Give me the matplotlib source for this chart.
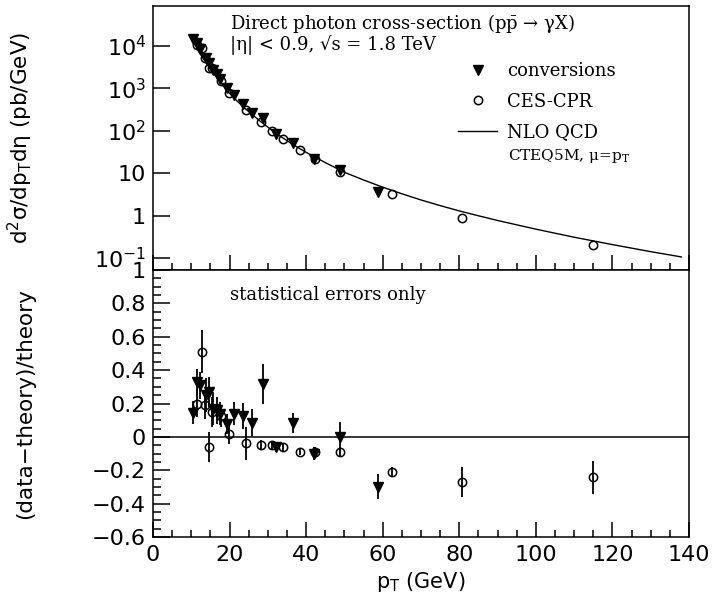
import numpy as np
import matplotlib
matplotlib.use("Agg")
import matplotlib.pyplot as plt
from matplotlib.ticker import MultipleLocator, FuncFormatter, FixedLocator, FixedFormatter, LogLocator

# NLO QCD curve (CTEQ5M, mu = pT)
theory_pt = [10, 11, 12, 13, 14, 15, 16, 18, 20, 22, 24, 28, 32, 36, 40, 45, 50, 55, 60, 65, 70, 75, 80, 85, 90,
             100, 110, 120, 130, 138]
theory_xs = [15100, 10500, 7240, 5250, 3890, 2880, 2190, 1260, 759, 501, 339, 168, 89, 51, 31, 17.8, 10.5, 6.92,
             4.68, 3.27, 2.34, 1.72, 1.29, 0.99, 0.767, 0.479, 0.309, 0.207, 0.141, 0.106]

# conversions (filled triangles)
conv_pt = [10.5, 11.4, 12.4, 13.8, 14.7, 15.7, 16.6, 17.5, 19.2, 21.1, 23.4, 25.9, 28.8, 32.1, 36.6, 42.1, 48.8, 58.8]
conv_xs = [14430, 11980, 8380, 5175, 4040, 2790, 2150, 1647, 1003, 693, 430, 268, 200, 82.5, 51.6, 22.0, 11.9, 3.6]
conv_ratio = [0.146, 0.326, 0.31, 0.25, 0.27, 0.17, 0.16, 0.14, 0.08, 0.14, 0.126, 0.086, 0.318, -0.062, 0.086,
              -0.10, 0.002, -0.30]
conv_err = [0.07, 0.08, 0.08, 0.10, 0.09, 0.10, 0.08, 0.07, 0.06, 0.07, 0.08, 0.08, 0.12, 0.03, 0.06, 0.04, 0.085, 0.075]

# CES-CPR (open circles)
ces_pt = [11.4, 12.7, 13.6, 14.7, 15.3, 17.8, 19.9, 24.2, 28.2, 31.0, 34.0, 38.4, 42.2, 48.8, 62.5, 80.8, 114.8]
ces_xs = [10840, 8800, 5240, 2990, 3080, 1500, 792, 315, 160, 100, 63.4, 34.4, 22.0, 10.8, 3.15, 0.86, 0.205]
ces_ratio = [0.20, 0.51, 0.19, -0.06, 0.15, 0.126, 0.018, -0.038, -0.048, -0.048, -0.062, -0.09, -0.09, -0.088,
             -0.208, -0.268, -0.242]
ces_err = [0.08, 0.13, 0.085, 0.09, 0.09, 0.065, 0.06, 0.10, 0.03, 0.025, 0.02, 0.02, 0.03, 0.03, 0.03, 0.09, 0.10]

top_ticks = [0.1, 1, 10, 100, 1000, 10000]
top_labels = [r"$\mathregular{10^{-1}}$", "1", "10", r"$\mathregular{10^{2}}$", r"$\mathregular{10^{3}}$",
              r"$\mathregular{10^{4}}$"]

SERIF = "DejaVu Serif"
plt.rcParams["font.family"] = "DejaVu Sans"
plt.rcParams["axes.linewidth"] = 1.1

fig = plt.figure(figsize=(7.28, 5.99), dpi=100)
ax1 = fig.add_axes([0.2102, 0.5492, 0.7362, 0.4408])
ax2 = fig.add_axes([0.2102, 0.1035, 0.7362, 0.4457])


def style_axis(ax):
    # ROOT-like ticks: inward, only left and bottom
    ax.set_xlim(0, 140)
    ax.xaxis.set_major_locator(MultipleLocator(20))
    ax.xaxis.set_minor_locator(MultipleLocator(5))
    ax.tick_params(axis="both", which="both", direction="in", top=False, right=False, labelsize=16, width=1.1)
    ax.tick_params(axis="x", which="major", length=11)
    ax.tick_params(axis="x", which="minor", length=5)
    ax.tick_params(axis="y", which="major", length=12, pad=5)
    ax.tick_params(axis="y", which="minor", length=6)


# --- upper panel: cross-section
ax1.plot(theory_pt, theory_xs, color="k", lw=1.0, label="NLO QCD")
ax1.plot(conv_pt, conv_xs, "v", color="k", ms=7, label="conversions")
ax1.plot(ces_pt, ces_xs, "o", mfc="none", mec="k", mew=1.1, ms=6, label="CES-CPR")
ax1.set_yscale("log")
ax1.set_ylim(0.052, 8.8e4)
style_axis(ax1)
ax1.yaxis.set_major_locator(FixedLocator(top_ticks))
ax1.yaxis.set_major_formatter(FixedFormatter(top_labels))
ax1.yaxis.set_minor_locator(LogLocator(base=10, subs=np.arange(2, 10)))
ax1.yaxis.set_minor_formatter(FuncFormatter(lambda v, p: ""))
ax1.tick_params(axis="x", labelbottom=False)
ax1.set_ylabel(r"$\mathregular{d^2\sigma/dp_T d\eta}$ (pb/GeV)", fontsize=15.5)
ax1.yaxis.set_label_coords(-0.22, 0.5)

ax1.text(0.143, 0.932, r"Direct photon cross-section ($\mathregular{p\bar{p}}$ → γX)", transform=ax1.transAxes,
         family=SERIF, fontsize=13, va="center")
ax1.text(0.143, 0.852, "|η| < 0.9, √s = 1.8 TeV", transform=ax1.transAxes, family=SERIF, fontsize=13, va="center")

h, l = ax1.get_legend_handles_labels()
order = [1, 2, 0]
leg = ax1.legend([h[i] for i in order], [l[i] for i in order], loc="upper left", bbox_to_anchor=(0.555, 0.815),
                 frameon=False, prop={"family": SERIF, "size": 13}, handlelength=2.2, handletextpad=0.55,
                 labelspacing=0.7, borderaxespad=0)
ax1.text(0.662, 0.43, r"CTEQ5M, μ=$\mathregular{p_T}$", transform=ax1.transAxes, family=SERIF, fontsize=11,
         va="center")

# --- lower panel: (data - theory)/theory
ax2.axhline(0, color="k", lw=1.1)
ax2.errorbar(conv_pt, conv_ratio, yerr=conv_err, fmt="v", color="k", ms=7, elinewidth=1.3, capsize=0)
ax2.errorbar(ces_pt, ces_ratio, yerr=ces_err, fmt="o", mfc="none", mec="k", ecolor="k", mew=1.1, ms=6,
             elinewidth=1.3, capsize=0)
ax2.set_ylim(-0.6, 1.0)
style_axis(ax2)
ax2.yaxis.set_major_locator(MultipleLocator(0.2))
ax2.yaxis.set_minor_locator(MultipleLocator(0.05))
ax2.yaxis.set_major_formatter(FuncFormatter(lambda v, p: f"{round(v, 2):g}".replace("-", "\u2212")))
ax2.xaxis.set_major_formatter(FuncFormatter(lambda v, p: f"{v:g}"))
ax2.tick_params(axis="x", pad=6)
ax2.set_ylabel("(data\u2212theory)/theory", fontsize=15.5)
ax2.yaxis.set_label_coords(-0.22, 0.5)
ax2.set_xlabel(r"$\mathregular{p_T}$ (GeV)", fontsize=15, labelpad=3)
ax2.text(0.143, 0.905, "statistical errors only", transform=ax2.transAxes, family=SERIF, fontsize=13,
         va="center")

fig.savefig("out.png", dpi=100)
